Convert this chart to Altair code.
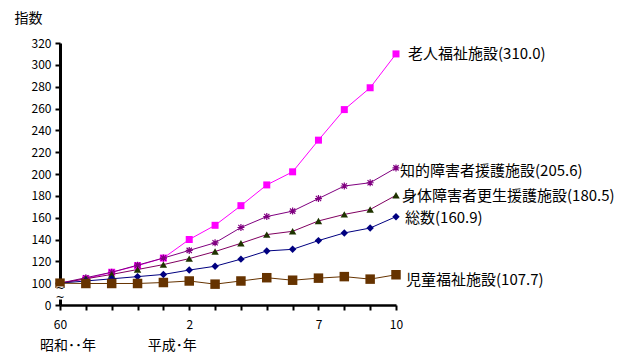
import altair as alt
import pandas as pd

years = list(range(1985, 1999))
series_names = ["老人福祉施設", "知的障害者援護施設", "身体障害者更生援護施設", "総数", "児童福祉施設"]
elderly = [100, 104, 110, 116, 123, 140, 153, 171, 190, 202, 231, 259, 279, 310.0]
intellectual = [100, 105, 110, 116.5, 123, 130, 137, 151, 161, 166, 177.5, 189, 192, 205.6]
physical = [100, 104, 108, 112.5, 117, 122.5, 129, 136.5, 144.5, 147.5, 157, 163, 167.5, 180.5]
total = [100, 102, 104, 106, 108, 112, 115.5, 122, 129.5, 131, 139, 146, 150.5, 160.9]
child = [100, 99.7, 99.7, 99.7, 100.6, 102, 99.1, 102, 105, 102.7, 104.6, 106, 103.7, 107.7]
values = [elderly, intellectual, physical, total, child]

x_tick_labels = {1985: "60", 1990: "2", 1995: "7", 1998: "10"}
era_labels = ["昭和･･年", "平成･年"]
era_years = [1985, 1990]
y_ticks = list(range(80, 321, 20))

line_colors = ["#FF00FF", "#800080", "#800060", "#000080", "#663300"]
mark_colors = ["#FF00FF", "#800080", "#1F3300", "#000080", "#663300"]
asterisk = "M-1,0L1,0M0,-1L0,1M-0.75,-0.75L0.75,0.75M-0.75,0.75L0.75,-0.75"
shapes = ["square", asterisk, "triangle-up", "diamond", "square"]
sizes = [49, 49, 55, 55, 90]
label_dx = [12, 4, 6, 9, 10]
label_dy = [0, 3, 1, 1.5, 5]

W, H = 336, 262
FONT = "Noto Sans CJK JP"
xs = alt.Scale(domain=[1985, 1998], nice=False, zero=False)
ys = alt.Scale(domain=[80, 320], nice=False, zero=False)

label_expr = " : ".join(
    f"datum.value == {k} ? '{v}'" for k, v in x_tick_labels.items()
) + " : ''"

x_axis = alt.Axis(
    values=years, labelExpr=label_expr, title=None, grid=False,
    domainColor="black", domainWidth=2.5, tickColor="black", tickWidth=2,
    tickSize=5, labelFontSize=12, labelFont=FONT, labelOverlap=False,
    labelColor="black", labelPadding=9, labelFlush=False)
y_axis = alt.Axis(
    values=y_ticks, labelExpr="datum.value == 80 ? '0' : datum.label",
    title="指数", titleAngle=0, titleX=-32, titleY=-25,
    titleAlign="center", titleBaseline="middle", titleFontSize=14,
    titleFont=FONT, titleFontWeight="normal", titleColor="black",
    grid=False, domainColor="black", domainWidth=3, tickColor="black",
    tickWidth=2, tickSize=5, labelFontSize=12, labelFont=FONT, labelOverlap=False,
    labelColor="black", labelPadding=4)

def X(field="year"):
    return alt.X(f"{field}:Q", scale=xs, axis=x_axis)

def Y(field="value"):
    return alt.Y(f"{field}:Q", scale=ys, axis=y_axis)

layers = []
for i, name in enumerate(series_names):
    df = pd.DataFrame({"year": years, "value": values[i], "series": name})
    base = alt.Chart(df)
    line = base.mark_line(color=line_colors[i], strokeWidth=1).encode(x=X(), y=Y())
    pts = base.mark_point(
        shape=shapes[i], size=sizes[i], filled=(i != 1),
        color=mark_colors[i], opacity=1, strokeWidth=1.2,
    ).encode(x=X(), y=Y())
    last = pd.DataFrame({"year": [years[-1]], "value": [values[i][-1]],
                         "label": [f"{name}({values[i][-1]:.1f})"]})
    txt = alt.Chart(last).mark_text(
        align="left", baseline="middle", dx=label_dx[i], dy=label_dy[i],
        fontSize=15, font=FONT, color="black",
    ).encode(x=X(), y=Y(), text="label:N")
    layers += [line, pts, txt]

# axis break on the y axis
brk = pd.DataFrame({"year": [1985], "y1": [85], "y2": [97]})
blank = alt.Chart(brk).mark_rule(color="white", strokeWidth=7).encode(
    x=X(), y=Y("y1"), y2="y2:Q")
tilde = pd.DataFrame({"year": [1985, 1985], "value": [94.5, 86], "t": ["~", "~"]})
tildes = alt.Chart(tilde).mark_text(fontSize=11, font="DejaVu Sans", color="black").encode(
    x=X(), y=Y(), text="t:N")

era = pd.DataFrame({"year": era_years, "t": era_labels})
era1 = alt.Chart(era.iloc[[0]]).mark_text(
    fontSize=14, font=FONT, color="black", baseline="middle", dx=8,
).encode(x=X(), y=alt.value(H + 41), text="t:N")
era2 = alt.Chart(era.iloc[[1]]).mark_text(
    fontSize=14, font=FONT, color="black", baseline="middle", dx=-17,
).encode(x=X(), y=alt.value(H + 41), text="t:N")

chart = alt.layer(*layers, blank, tildes, era1, era2).properties(
    width=W, height=H, background="white",
    autosize=alt.AutoSizeParams(type="none"),
    padding={"left": 52, "top": 35, "right": 229, "bottom": 51},
).configure_view(stroke=None)

chart.save("out.html", embed_options={"renderer": "svg", "actions": False})
